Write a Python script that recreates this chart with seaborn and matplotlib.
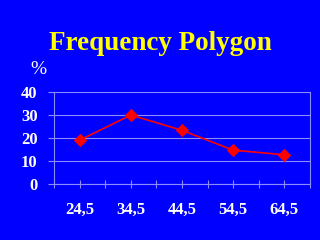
import matplotlib
matplotlib.use("Agg")
import matplotlib.pyplot as plt
import seaborn as sns
import pandas as pd
from matplotlib.ticker import FixedLocator

categories = ["24,5", "34,5", "44,5", "54,5", "64,5"]
percent = [19.2, 30.0, 23.4, 14.8, 12.8]
y_ticks = [0, 10, 20, 30, 40]

sns.set_style("white")
plt.rcParams['font.family'] = ['Liberation Serif', 'DejaVu Serif']

BG = "#0000FF"
GRID = "#8C8CFF"

df = pd.DataFrame({"pos": range(len(categories)), "pct": percent})

fig = plt.figure(figsize=(3.2, 2.4), dpi=100, facecolor=BG)
ax = fig.add_axes([54.3/320, 1-184.3/240, (309.7-54.3)/320, (184.3-92)/240])
ax.set_facecolor(BG)

sns.lineplot(data=df, x="pos", y="pct", ax=ax, color="#FF0000", linewidth=1.2,
             marker="D", markersize=6.5, markeredgecolor="#FF0000", zorder=5)

ax.set_xlim(-0.5, len(categories) - 0.5)
ax.set_ylim(0, 40)
ax.set_yticks(y_ticks)
ax.set_yticklabels([str(v) for v in y_ticks])
ax.set_xticks(range(len(categories)))
ax.set_xticklabels(categories)
ax.xaxis.set_minor_locator(FixedLocator([i - 0.5 for i in range(len(categories) + 1)]))

ax.grid(axis="y", color=GRID, linewidth=0.8)
ax.set_axisbelow(True)
for s in ["left", "right", "bottom", "top"]:
    ax.spines[s].set_color(GRID)
    ax.spines[s].set_linewidth(0.8)
ax.spines["top"].set_visible(False)

ax.tick_params(axis="y", which="major", length=4, width=0.8, color=GRID, direction="out",
               left=True, pad=8, labelcolor="white", labelsize=12)
ax.tick_params(axis="x", which="both", length=5.5, width=0.8, color=GRID, direction="inout",
               bottom=True)
ax.tick_params(axis="x", which="major", pad=10, labelcolor="white", labelsize=12)
for lab in ax.get_xticklabels() + ax.get_yticklabels():
    lab.set_fontweight("bold")

ax.set_xlabel("")
ax.set_ylabel("")

fig.text(0.5, 1 - 43/240, "Frequency Polygon", color="#FFFF00", fontsize=19.5,
         fontweight="bold", ha="center", va="center")
fig.text(38/320, 1 - 69/240, "%", color="white", fontsize=14, ha="center", va="center")

fig.savefig("out.png", dpi=100, facecolor=BG)
